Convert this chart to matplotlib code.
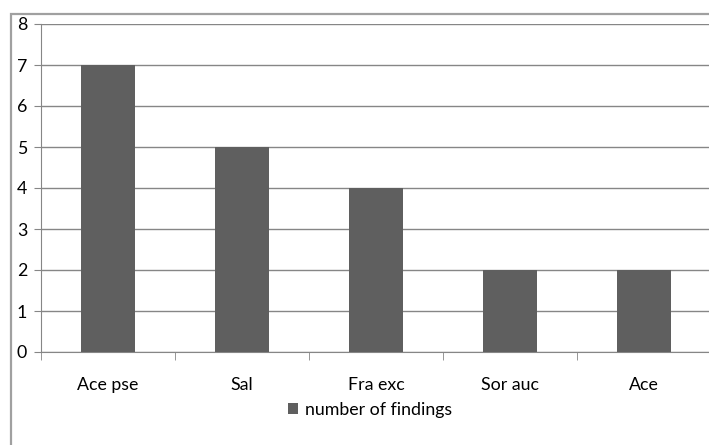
import matplotlib.pyplot as plt
from matplotlib.patches import Rectangle

# data
species = ["Ace pse", "Sal", "Fra exc", "Sor auc", "Ace"]
findings = [7, 5, 4, 2, 2]
y_ticks = [0, 1, 2, 3, 4, 5, 6, 7, 8]

plt.rcParams['font.family'] = ['Lato', 'DejaVu Sans']
fs = 12.8

W, H = 709, 445
fig = plt.figure(figsize=(W / 100, H / 100), dpi=100)

# outer chart frame (runs off right and bottom of picture)
fig.patches.append(Rectangle((11 / W, -0.1), 1.0, (H - 14) / H + 0.1,
                             transform=fig.transFigure, fill=False,
                             edgecolor='#a0a0a0', linewidth=1.6))

ax = fig.add_axes([41 / W, (H - 352) / H, 670 / W, 328 / H])
x = range(len(species))
ax.bar(x, findings, width=0.41, color='#5f5f5f', zorder=3,
       label='number of findings')

ax.set_xlim(-0.5, len(species) - 0.5)
ax.set_ylim(0, 8)
ax.set_yticks(y_ticks)
ax.yaxis.grid(True, color='#868686', linewidth=1.0, zorder=0)
ax.set_axisbelow(True)

for side in ['top', 'right']:
    ax.spines[side].set_visible(False)
ax.spines['left'].set_color('#868686')
ax.spines['bottom'].set_color('#868686')

ax.set_xticks(x)
ax.set_xticklabels(species, fontsize=fs)
ax.tick_params(axis='x', length=0, pad=18)
ax.set_xticks([i + 0.5 for i in range(-1, len(species))], minor=True)
ax.tick_params(axis='x', which='minor', length=6, color='#868686')
ax.tick_params(axis='y', length=5, color='#868686', labelsize=fs, pad=5)

ax.legend(loc='center', bbox_to_anchor=(370 / W, (H - 410) / H),
          bbox_transform=fig.transFigure, frameon=False, fontsize=fs,
          handlelength=0.6, handleheight=0.6, handletextpad=0.4)

fig.savefig('out.png', dpi=100)
